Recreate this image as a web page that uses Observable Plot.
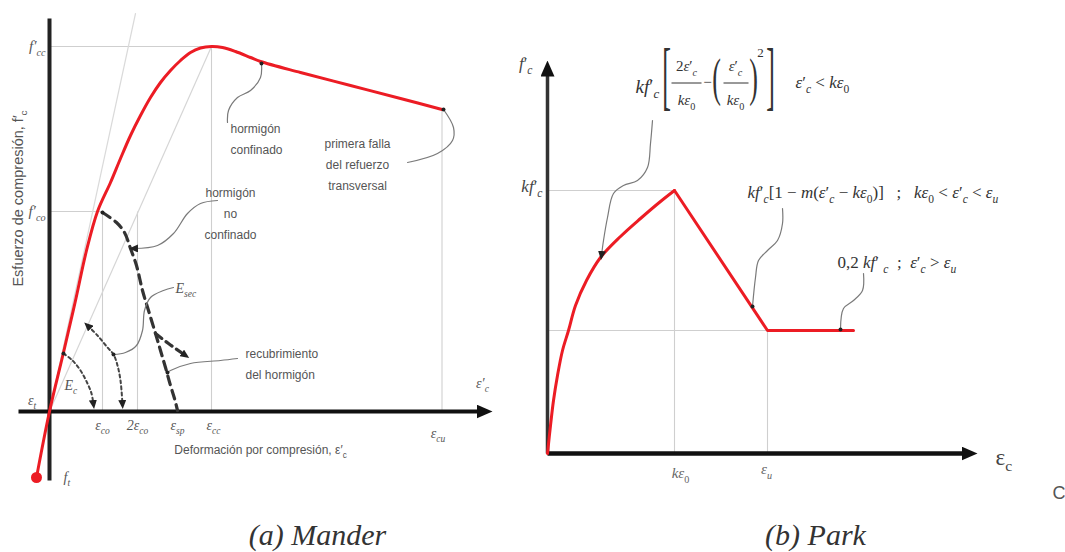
<!DOCTYPE html>
<html>
<head>
<meta charset="utf-8">
<script src="https://cdn.jsdelivr.net/npm/d3@7"></script>
<script src="https://cdn.jsdelivr.net/npm/@observablehq/plot@0.6"></script>
<style>
  html, body { margin:0; padding:0; background:#fff; }
  #root { position:relative; width:1065px; height:552px; overflow:hidden; background:#fff; }
  #root > * { position:absolute; top:0; }
</style>
</head>
<body>
<div id="root"></div>
<script>
// ================= DATA : (a) Mander  (strain in ‰, stress in MPa) =================
const eco = 2.12, e2co = 3.52, esp = 5.12, ecc = 6.48, ecu = 15.7, et = -0.52;
const fco = 20.0, fcc = 36.5, fcu = 30.2, ft = -6.6;

const manderConfined = [
  [-0.52,-6.6],[0,0],[0.56,5.9],[1.04,11.1],[1.48,16.1],[1.92,20.0],[2.44,22.9],[2.84,25.3],
  [3.24,27.6],[3.64,29.6],[4.04,31.4],[4.44,32.9],[4.84,34.1],[5.24,35.1],[5.64,35.9],[6.04,36.35],
  [6.48,36.5],[6.92,36.4],[7.44,36.0],[8.04,35.4],[8.44,35.0],[10.04,33.9],[12.04,32.6],[14.04,31.3],[15.7,30.2]
];
const manderUnconfined = [
  [2.12,19.9],[2.68,18.9],[3.0,17.9],[3.24,16.3],[3.48,14.6],[3.72,12.1],[3.96,10.1],
  [4.24,7.8],[4.44,6.1],[4.64,4.4],[4.84,2.6],[5.0,1.3],[5.12,0.1]
];
const manderSpalling = [[4.24,7.8],[4.76,6.8],[5.44,5.6]];
const manderUnload1 = [[0.56,5.8],[0.92,5.1],[1.24,4.1],[1.52,2.8],[1.68,1.8],[1.76,0.7]];
const manderUnload2 = [[1.52,8.6],[1.92,7.6],[2.32,6.4],[2.56,5.7],[2.72,4.6],[2.84,3.1],[2.92,0.7]];
const manderTangent = [[0,0],[3.44,39.8]];
const manderSecant = [[0,0],[ecc,fcc]];
const manderGuides = [
  [0,fcc,ecc,fcc],[ecc,fcc,ecc,0],[ecu,fcu,ecu,0],
  [0,fco,eco,fco],[eco,fco,eco,0],[e2co,fco,e2co,0]
];
const manderYAxis = [[0,-6.9,0,39.3]];
const manderXAxis = [[-1.24,0,17.4,0]];

// annotation leaders
const leadConfinado = [[8.48,34.8],[8.44,33.4],[8.04,32.1],[7.52,31.4],[7.16,30.1],[7.12,28.9]];
const leadFalla = [[15.76,30.2],[16.16,28.4],[16.12,27.1],[15.52,25.8],[14.32,24.9]];
const leadNoConf = [[6.72,21.1],[6.04,20.8],[5.52,19.8],[4.96,17.8],[4.32,16.6],[3.36,16.3]];
const leadEsec = [[4.96,12.4],[4.56,12.1],[4.04,11.4],[3.8,10.1],[3.72,8.1],[3.48,6.6],[3.04,5.9],[2.56,5.7]];
const leadCover = [[7.52,5.3],[6.84,5.1],[5.64,4.8],[4.84,4.1],[4.72,3.9]];

// tick labels on the strain axis
const manderTickValues = [eco, e2co, esp, ecc + 0.08];
const manderTickLabels = ["ε_{co}", "2ε_{co}", "ε_{sp}", "ε_{cc}"];

// ================= DATA : (b) Park  (strain in ‰, stress in MPa) =================
const ke0 = 2.54, eu = 4.4, eEnd = 6.12, kfc = 26.3, fres = 12.3;
const parkAscending = [
  [0,0],[0.06,2.8],[0.12,5.3],[0.2,7.8],[0.3,10.3],[0.42,12.3],[0.56,14.8],[0.78,17.3],
  [1.06,19.6],[1.46,21.7],[1.86,23.5],[2.26,25.2],[2.54,26.3]
];
const parkDescending = [[ke0,kfc],[eu,fres],[eEnd,fres]];
const parkGuides = [[0,kfc,ke0,kfc],[ke0,kfc,ke0,0],[0,fres,eu,fres],[eu,fres,eu,0]];
const parkYAxis = [[0,0,0,38.5]];
const parkXAxis = [[0,0,8.44,0]];
const leadPark1 = [[2.1,33.3],[2.06,31.0],[2.0,28.6],[1.8,27.3],[1.52,26.8],[1.32,26.0],[1.2,23.6],[1.12,21.3],[1.08,19.8]];
const leadPark2 = [[4.7,24.5],[4.7,23.0],[4.6,21.3],[4.4,20.3],[4.22,19.3],[4.16,17.6],[4.1,14.7]];
const leadPark3 = [[6.32,18.0],[6.3,16.3],[6.12,15.3],[5.92,14.5],[5.86,12.4]];
const parkTickValues = [ke0 + 0.12, eu - 0.02];
const parkTickLabels = ["kε_0", "ε_u"];

// ================= helpers =================
const RED = "#ec1c24";
const xy = {x: d => d[0], y: d => d[1]};
const seg = {x1: d => d[0], y1: d => d[1], x2: d => d[2], y2: d => d[3]};
const SERIF = "Liberation Serif, Times New Roman, serif";
const SANS = "Liberation Sans, Arial, sans-serif";
const LEAD = {stroke: "#7a7a7a", strokeWidth: 1.2, curve: "catmull-rom"};
function LEAD0() { return {...xy, ...LEAD}; }

function manderPlot() {
  const W = 500, H = 552, ox = 49, oy = 411, sx = 25, sy = 10;
  const ticks = manderTickValues.map((v, i) => ({x: v, y: -1.4, t: manderTickLabels[i]}));
  return Plot.plot({
    width: W, height: H, margin: 0,
    x: {domain: [-ox / sx, (W - ox) / sx], range: [0, W], axis: null},
    y: {domain: [(oy - H) / sy, oy / sy], range: [H, 0], axis: null},
    marks: [
      Plot.link(manderGuides, {...seg, stroke: "#cfcfcf", strokeWidth: 1.1}),
      Plot.line(manderTangent, {...xy, stroke: "#dadada", strokeWidth: 1.2}),
      Plot.line(manderSecant, {...xy, stroke: "#d6d6d6", strokeWidth: 1.2}),
      Plot.link(manderYAxis, {...seg, stroke: "#222", strokeWidth: 4}),
      Plot.link(manderXAxis, {...seg, stroke: "#111", strokeWidth: 4, ariaDescription: "bigEnd"}),
      Plot.line(manderUnload1, {...xy, stroke: "#444", strokeWidth: 2, strokeDasharray: "3,3", curve: "catmull-rom", ariaDescription: "smallEnd"}),
      Plot.line(manderUnload2, {...xy, stroke: "#444", strokeWidth: 2, strokeDasharray: "3,3", curve: "catmull-rom", ariaDescription: "smallEnd smallStart"}),
      Plot.line(manderUnconfined, {...xy, stroke: "#333", strokeWidth: 3.2, strokeDasharray: "9,6", curve: "catmull-rom"}),
      Plot.line(manderSpalling, {...xy, stroke: "#333", strokeWidth: 3.2, strokeDasharray: "8,5", curve: "catmull-rom", ariaDescription: "smallEnd"}),
      Plot.line(manderConfined, {...xy, stroke: RED, strokeWidth: 3, curve: "catmull-rom"}),
      Plot.line(leadConfinado, LEAD0()),
      Plot.line(leadFalla, LEAD0()),
      Plot.line(leadNoConf, {...LEAD0(), ariaDescription: "smallEnd"}),
      Plot.line(leadEsec, LEAD0()),
      Plot.line(leadCover, LEAD0()),
      Plot.dot([leadConfinado[0], leadFalla[0], leadEsec.at(-1), leadCover.at(-1), manderUnload1[0], manderUnconfined[0]],
        {...xy, r: 2, fill: "#222"}),
      Plot.dot([[et, ft]], {...xy, r: 5.5, fill: RED}),
      // symbols
      Plot.text(ticks, {x: "x", y: "y", text: "t", fontFamily: SERIF, fontStyle: "italic", fontSize: 14, fill: "#555"}),
      Plot.text([{x: ecu - 0.16, y: -2.2, t: "ε_{cu}"}, {x: -0.7, y: 1.1, t: "ε_t"}, {x: 17.32, y: 2.8, t: "ε′_c"}],
        {x: "x", y: "y", text: "t", fontFamily: SERIF, fontStyle: "italic", fontSize: 14, fill: "#555"}),
      Plot.text([{x: -0.16, y: fcc, t: "f′_{cc}"}, {x: -0.16, y: fco, t: "f′_{co}"}],
        {x: "x", y: "y", text: "t", textAnchor: "end", fontFamily: SERIF, fontStyle: "italic", fontSize: 15, fill: "#555"}),
      Plot.text([{x: 0.56, y: ft, t: "f_t"}, {x: 0.6, y: 2.6, t: "E_c"}, {x: 5.04, y: 12.3, t: "E_{sec}"}],
        {x: "x", y: "y", text: "t", textAnchor: "start", fontFamily: SERIF, fontStyle: "italic", fontSize: 14, fill: "#555"}),
      // annotations
      Plot.text([{x: 7.24, y: 27.5, t: "hormigón\nconfinado"}, {x: 7.84, y: 5.0, t: "recubrimiento\ndel hormigón"}],
        {x: "x", y: "y", text: "t", textAnchor: "start", lineHeight: 1.75, fontFamily: SANS, fontSize: 12, fill: "#555"}),
      Plot.text([{x: 12.32, y: 24.9, t: "primera falla\ndel refuerzo\ntransversal"}, {x: 7.24, y: 20.0, t: "hormigón\nno\nconfinado"}],
        {x: "x", y: "y", text: "t", textAnchor: "middle", lineHeight: 1.75, fontFamily: SANS, fontSize: 12, fill: "#555"}),
      Plot.text([{x: 8.44, y: -3.9, t: "Deformación por compresión, ε′_c"}],
        {x: "x", y: "y", text: "t", fontFamily: SANS, fontSize: 12, fill: "#555"}),
      Plot.text([{x: -1.24, y: 21.3, t: "Esfuerzo de compresión, f′_c"}],
        {x: "x", y: "y", text: "t", rotate: -90, fontFamily: SANS, fontSize: 14.5, fill: "#555"}),
      Plot.text([{x: 10.72, y: -12.4, t: "(a) Mander"}],
        {x: "x", y: "y", text: "t", fontFamily: SERIF, fontStyle: "italic", fontSize: 30, fill: "#333"})
    ]
  });
}

function parkPlot() {
  const W = 565, H = 552, ox = 47, oy = 453, sx = 50, sy = 10;
  const ticks = parkTickValues.map((v, i) => ({x: v, y: i === 0 ? -2.0 : -1.6, t: parkTickLabels[i]}));
  return Plot.plot({
    width: W, height: H, margin: 0,
    x: {domain: [-ox / sx, (W - ox) / sx], range: [0, W], axis: null},
    y: {domain: [(oy - H) / sy, oy / sy], range: [H, 0], axis: null},
    marks: [
      Plot.link(parkGuides, {...seg, stroke: "#cfcfcf", strokeWidth: 1.1}),
      Plot.link(parkYAxis, {...seg, stroke: "#333", strokeWidth: 3.5, ariaDescription: "bigEnd"}),
      Plot.link(parkXAxis, {...seg, stroke: "#111", strokeWidth: 4.5, ariaDescription: "bigEnd"}),
      Plot.line(parkAscending, {...xy, stroke: RED, strokeWidth: 3, curve: "catmull-rom"}),
      Plot.line(parkDescending, {...xy, stroke: RED, strokeWidth: 3}),
      Plot.line(leadPark1, {...LEAD0(), ariaDescription: "smallEnd"}),
      Plot.line(leadPark2, LEAD0()),
      Plot.line(leadPark3, LEAD0()),
      Plot.dot([leadPark2.at(-1), leadPark3.at(-1)], {...xy, r: 2, fill: "#222"}),
      Plot.text(ticks, {x: "x", y: "y", text: "t", fontFamily: SERIF, fontSize: 15, fill: "#666", ariaDescription: "math"}),
      Plot.text([{x: -0.3, y: 39.0, t: "f′_c"}, {x: -0.1, y: 26.7, t: "kf′_c"}],
        {x: "x", y: "y", text: "t", textAnchor: "end", fontFamily: SERIF, fontSize: 17, fill: "#444", ariaDescription: "math"}),
      Plot.text([{x: 8.96, y: -0.4, t: "ε_c"}],
        {x: "x", y: "y", text: "t", textAnchor: "start", fontFamily: SERIF, fontSize: 23, fill: "#444"}),
      // formula 1
      Plot.text([{x: 1.76, y: 36.7, t: "kf′_c"}],
        {x: "x", y: "y", text: "t", textAnchor: "start", fontFamily: SERIF, fontSize: 19, fill: "#333", ariaDescription: "math"}),
      Plot.text([{x: 2.78, y: 38.7, t: "2ε′_c"}, {x: 2.78, y: 35.3, t: "kε_0"}, {x: 3.76, y: 38.7, t: "ε′_c"}, {x: 3.76, y: 35.3, t: "kε_0"}, {x: 3.2, y: 37.1, t: "−"}],
        {x: "x", y: "y", text: "t", fontFamily: SERIF, fontSize: 15, fill: "#333", ariaDescription: "math"}),
      Plot.link([[2.48, 37.05, 3.08, 37.05], [3.52, 37.05, 4.02, 37.05]], {...seg, stroke: "#333", strokeWidth: 1}),
      Plot.text([{x: 2.38, y: 37.7, t: "["}, {x: 4.46, y: 37.7, t: "]"}],
        {x: "x", y: "y", text: "t", fontFamily: SERIF, fontSize: 26, fill: "#333", ariaDescription: "tallB"}),
      Plot.text([{x: 3.38, y: 37.5, t: "("}, {x: 4.12, y: 37.5, t: ")"}],
        {x: "x", y: "y", text: "t", fontFamily: SERIF, fontSize: 26, fill: "#333", ariaDescription: "tallP"}),
      Plot.text([{x: 4.26, y: 40.1, t: "2"}],
        {x: "x", y: "y", text: "t", fontFamily: SERIF, fontSize: 13, fill: "#333"}),
      Plot.text([{x: 4.96, y: 37.1, t: "ε′_c < kε_0"}, {x: 4.0, y: 26.1, t: "kf′_c[1 − m(ε′_c − kε_0)]   ;   kε_0 < ε′_c < ε_u"}, {x: 5.8, y: 19.1, t: "0,2 kf′ _c  ;  ε′_c > ε_u"}],
        {x: "x", y: "y", text: "t", textAnchor: "start", fontFamily: SERIF, fontSize: 17, fill: "#333", ariaDescription: "math"}),
      Plot.text([{x: 5.36, y: -8.2, t: "(b) Park"}],
        {x: "x", y: "y", text: "t", fontFamily: SERIF, fontStyle: "italic", fontSize: 30, fill: "#333"}),
      Plot.text([{x: 10.1, y: -4.0, t: "C"}],
        {x: "x", y: "y", text: "t", textAnchor: "start", fontFamily: SANS, fontSize: 18, fill: "#555"})
    ]
  });
}

// ---------- rich text (sub/superscripts, math italics) ----------
function parseRich(src) {
  const out = []; let i = 0;
  while (i < src.length) {
    const c = src[i];
    if ((c === "_" || c === "^") && i + 1 < src.length) {
      const lvl = c === "_" ? 1 : -1; i++;
      let s;
      if (src[i] === "{") { const j = src.indexOf("}", i); s = src.slice(i + 1, j); i = j + 1; }
      else { s = src[i]; i++; }
      for (const ch of s) out.push({ch, lvl});
    } else { out.push({ch: c, lvl: 0}); i++; }
  }
  return out;
}
function applyRich(svg) {
  svg.querySelectorAll("text").forEach(t => {
    if (t.querySelector("tspan")) return;
    const g = t.closest("g[aria-description]");
    const desc = g ? g.getAttribute("aria-description") : "";
    const math = /\bmath\b/.test(desc);
    const src = t.textContent;
    if (!math && !/[_^]/.test(src)) return;
    const fs = parseFloat(getComputedStyle(t).fontSize) || 12;
    const groups = [];
    for (const o of parseRich(src)) {
      const it = math && /[A-Za-zα-ω]/.test(o.ch);
      const last = groups[groups.length - 1];
      if (last && last.lvl === o.lvl && last.it === it) last.s += o.ch;
      else groups.push({s: o.ch, lvl: o.lvl, it});
    }
    t.textContent = "";
    let cur = 0;
    for (const gr of groups) {
      const target = gr.lvl === 1 ? 0.28 * fs : gr.lvl === -1 ? -0.42 * fs : 0;
      const ts = document.createElementNS("http://www.w3.org/2000/svg", "tspan");
      if (target !== cur) ts.setAttribute("dy", (target - cur).toFixed(2));
      if (gr.lvl !== 0) ts.setAttribute("font-size", (0.68 * fs).toFixed(2));
      if (math) ts.setAttribute("font-style", gr.it ? "italic" : "normal");
      ts.textContent = gr.s;
      t.appendChild(ts);
      cur = target;
    }
  });
}
function applyTall(svg) {
  const scale = {tallB: 2.9, tallP: 2.0};
  for (const k in scale) {
    svg.querySelectorAll(`g[aria-description~="${k}"] text`).forEach(t => {
      t.setAttribute("transform", (t.getAttribute("transform") || "") + ` scale(1,${scale[k]})`);
    });
  }
}
function addMarkers(svg, id) {
  const s = d3.select(svg);
  const defs = s.append("defs");
  const mk = (name, L, Wd, color) => defs.append("marker")
    .attr("id", id + name).attr("viewBox", `0 0 ${L} ${Wd}`)
    .attr("refX", L / 2).attr("refY", Wd / 2)
    .attr("markerWidth", L).attr("markerHeight", Wd)
    .attr("markerUnits", "userSpaceOnUse").attr("orient", "auto-start-reverse")
    .append("path").attr("d", `M0,0L${L},${Wd / 2}L0,${Wd}Z`).attr("fill", color).attr("stroke", "none");
  mk("big", 16, 14, "#111");
  mk("small", 9, 8, "#222");
  s.selectAll('g[aria-description~="bigEnd"] path').attr("marker-end", `url(#${id}big)`);
  s.selectAll('g[aria-description~="smallEnd"] path').attr("marker-end", `url(#${id}small)`);
  s.selectAll('g[aria-description~="smallStart"] path').attr("marker-start", `url(#${id}small)`);
}

const root = document.getElementById("root");
const left = manderPlot(); left.style.left = "0px"; root.appendChild(left);
const right = parkPlot(); right.style.left = "500px"; root.appendChild(right);
for (const [svg, id] of [[left, "m"], [right, "p"]]) { applyRich(svg); applyTall(svg); addMarkers(svg, id); }
</script>
</body>
</html>
